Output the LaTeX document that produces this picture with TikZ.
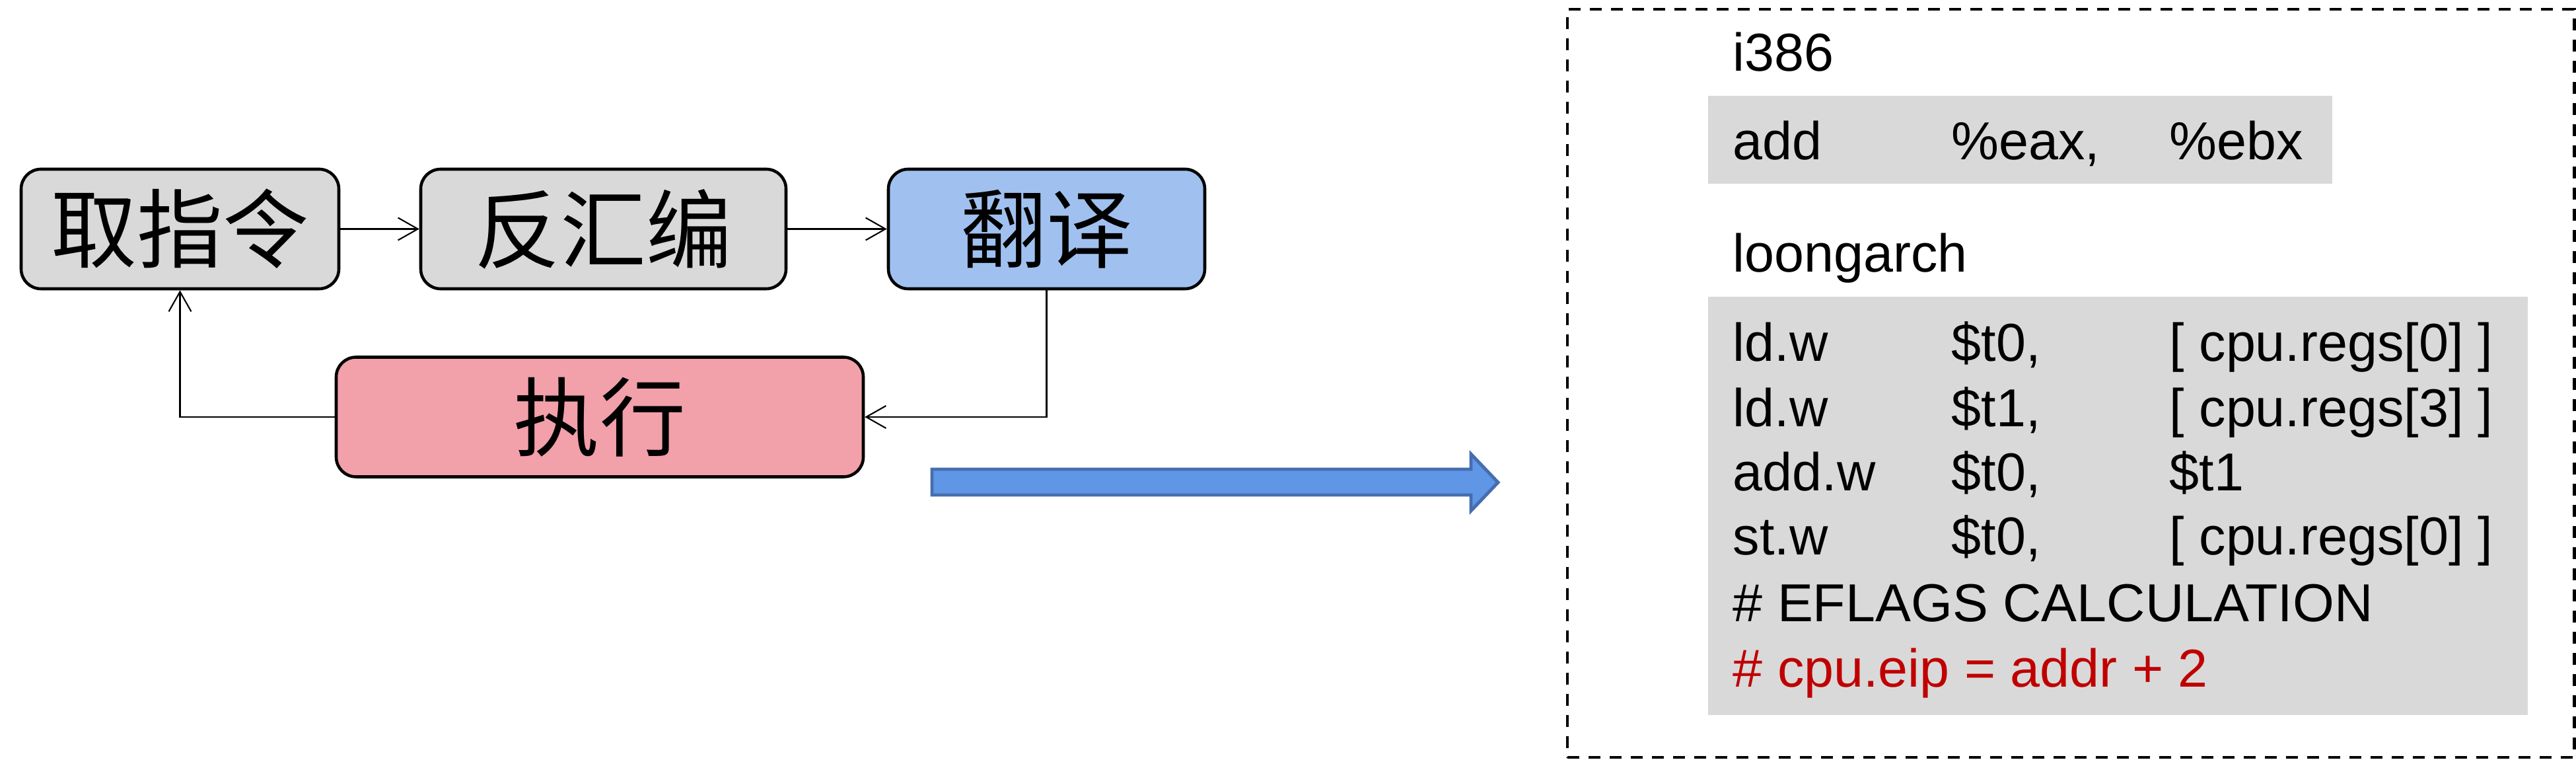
\documentclass[tikz,border=0pt]{standalone}
\usepackage{fontspec}
\setmainfont{Liberation Sans}
\newfontfamily\cjk{Noto Sans CJK SC}
\usepackage{xcolor}
\usetikzlibrary{arrows.meta}

\definecolor{boxgray}{RGB}{217,217,217}
\definecolor{boxblue}{RGB}{160,193,240}
\definecolor{boxpink}{RGB}{242,160,170}
\definecolor{arrowblue}{RGB}{95,150,229}
\definecolor{arrowedge}{RGB}{70,110,175}
\definecolor{codered}{RGB}{192,0,0}

\begin{document}
\begin{tikzpicture}[
  stage/.style={draw, line width=1.3pt, rounded corners=0.3cm, minimum height=1.81cm,
    inner sep=0pt, font=\cjk\fontsize{37}{40}\selectfont},
  flow/.style={line width=0.6pt, -{Straight Barb[length=0.3cm,width=0.34cm,line width=0.6pt]}},
  code/.style={anchor=base west, inner sep=0pt, font=\fontsize{23}{26}\selectfont},
  codebg/.style={fill=boxgray, inner sep=0pt}
]
\useasboundingbox (0,0) rectangle (39,11.5);

% pipeline
\node (fetch) at (2.725,8.035) [stage, fill=boxgray, minimum width=4.81cm]{取指令};
\node (disasm) at (9.135,8.035) [stage, fill=boxgray, minimum width=5.53cm]{反汇编};
\node (trans) at (15.845,8.035) [stage, fill=boxblue, minimum width=4.79cm]{翻译};
\node (exec) at (9.08,5.19) [stage, fill=boxpink, minimum width=7.98cm]{执行};

\draw [flow] (fetch) -- (disasm);
\draw [flow] (disasm) -- (trans);
\draw [flow] (trans.south) |- (exec.east);
\draw [flow] (exec.west) -| (fetch.south);

% big arrow
\draw [line width=1.4pt, draw=arrowedge, fill=arrowblue]
  (14.11,4.40) -- (22.27,4.40) -- (22.27,4.63) -- (22.68,4.20)
  -- (22.27,3.77) -- (22.27,4.01) -- (14.11,4.01) -- cycle;

% dashed frame
\node (frame) at (31.35,5.70) [draw, line width=1.4pt, dash pattern=on 0.18cm off 0.14cm,
  minimum width=15.24cm, minimum height=11.32cm]{};

% code blocks
\node (i386bg) at (30.585,9.385) [codebg, minimum width=9.45cm, minimum height=1.33cm]{};
\node (lagbg) at (32.065,3.845) [codebg, minimum width=12.41cm, minimum height=6.33cm]{};

\node (i386) at (26.23,10.42) [code]{i386};
\node (x86op) at (26.23,9.08) [code]{add};
\node (x86src) at (29.54,9.08) [code]{\%eax,};
\node (x86dst) at (32.84,9.08) [code]{\%ebx};

\node (lag) at (26.23,7.38) [code]{loongarch};

\node (op1) at (26.23,6.03) [code]{ld.w};
\node (rd1) at (29.54,6.03) [code]{\$t0,};
\node (rs1) at (32.84,6.03) [code]{[ cpu.regs[0] ]};

\node (op2) at (26.23,5.04) [code]{ld.w};
\node (rd2) at (29.54,5.04) [code]{\$t1,};
\node (rs2) at (32.84,5.04) [code]{[ cpu.regs[3] ]};

\node (op3) at (26.23,4.07) [code]{add.w};
\node (rd3) at (29.54,4.07) [code]{\$t0,};
\node (rs3) at (32.84,4.07) [code]{\$t1};

\node (op4) at (26.23,3.10) [code]{st.w};
\node (rd4) at (29.54,3.10) [code]{\$t0,};
\node (rs4) at (32.84,3.10) [code]{[ cpu.regs[0] ]};

\node (eflags) at (26.23,2.09) [code]{\# EFLAGS CALCULATION};
\node (eip) at (26.23,1.10) [code, text=codered]{\# cpu.eip = addr + 2};

\end{tikzpicture}
\end{document}
